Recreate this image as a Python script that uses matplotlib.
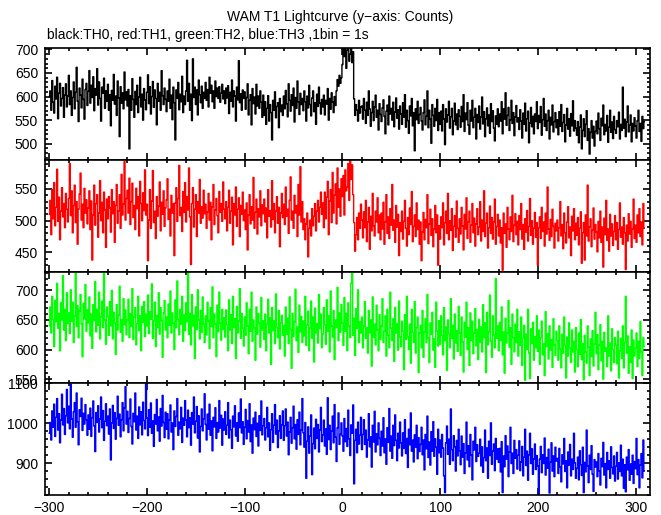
import numpy as np
import matplotlib
matplotlib.use("Agg")
import matplotlib.pyplot as plt
from matplotlib.ticker import MultipleLocator

plt.rcParams['font.family'] = ['Liberation Sans', 'DejaVu Sans']

t_start = -300

th0 = [
600, 612, 571, 634, 588, 565, 622, 595, 641, 553, 607, 628, 580, 596, 619, 556, 603, 627, 578, 601,
645, 583, 612, 560, 598, 631, 574, 609, 662, 590, 547, 618, 603, 576, 637, 594, 552, 615, 628, 581,
611, 655, 586, 624, 598, 642, 570, 617, 603, 659, 582, 631, 596, 548, 620, 607, 639, 575, 612, 590,
626, 571, 604, 538, 613, 592, 647, 584, 601, 560, 633, 597, 515, 621, 586, 608, 574, 652, 593, 610,
580, 615, 489, 602, 571, 638, 594, 556, 611, 583, 624, 566, 599, 641, 578, 605, 550, 617, 593, 572,
609, 646, 585, 621, 563, 600, 632, 577, 614, 596, 540, 628, 590, 609, 571, 655, 602, 583, 618, 594,
568, 612, 590, 637, 575, 603, 551, 620, 587, 508, 614, 596, 630, 572, 605, 589, 643, 566, 601, 583,
612, 677, 590, 628, 571, 605, 549, 680, 598, 620, 583, 614, 561, 635, 604, 587, 622, 575, 609, 596,
630, 592, 615, 578, 641, 607, 624, 589, 612, 575, 633, 600, 618, 596, 621, 588, 607, 626, 595, 612,
585, 618, 597, 623, 564, 609, 590, 635, 578, 612, 601, 548, 620, 593, 676, 587, 606, 571, 614, 596,
610, 573, 598, 627, 561, 592, 604, 540, 617, 585, 599, 563, 626, 580, 601, 575, 612, 588, 556, 603,
560, 589, 541, 575, 602, 548, 583, 566, 508, 592, 571, 610, 555, 579, 587, 534, 596, 568, 582, 560,
601, 574, 613, 585, 557, 627, 592, 569, 604, 581, 618, 546, 598, 575, 633, 589, 562, 607, 583, 596,
570, 612, 589, 548, 601, 576, 624, 583, 559, 597, 612, 568, 587, 541, 605, 579, 620, 586, 563, 594,
578, 603, 561, 592, 584, 617, 550, 596, 573, 608, 589, 566, 600, 581, 612, 636, 622, 645, 628, 640,
668, 702, 685, 715, 660, 698, 720, 675, 690, 708, 672, 695, 595, 560, 583, 571, 548, 592, 565, 578,
580, 552, 596, 571, 543, 588, 560, 612, 574, 537, 566, 590, 549, 578, 603, 556, 571, 529, 585, 562,
547, 576, 593, 558, 521, 569, 582, 540, 601, 563, 575, 550, 588, 536, 567, 597, 554, 572, 531, 580,
563, 541, 587, 556, 604, 535, 571, 549, 522, 580, 559, 596, 538, 566, 485, 574, 551, 590, 543, 562,
577, 548, 529, 566, 593, 540, 558, 612, 534, 571, 552, 501, 583, 560, 537, 575, 549, 594, 528, 566,
541, 569, 527, 583, 552, 498, 574, 546, 561, 590, 533, 557, 575, 519, 548, 586, 540, 563, 530, 572,
558, 535, 579, 547, 604, 526, 565, 551, 587, 539, 520, 571, 548, 592, 534, 556, 575, 510, 562, 545,
580, 531, 557, 599, 542, 568, 515, 553, 576, 538, 561, 522, 585, 547, 570, 533, 506, 559, 541, 574,
536, 563, 548, 589, 521, 574, 552, 608, 539, 560, 577, 528, 551, 592, 543, 566, 517, 557, 581, 546,
555, 530, 572, 548, 512, 565, 541, 586, 527, 553, 569, 502, 544, 577, 536, 558, 521, 563, 547, 589,
532, 560, 545, 579, 518, 551, 596, 537, 563, 528, 549, 571, 510, 556, 540, 582, 525, 547, 566, 534,
551, 519, 568, 537, 583, 526, 545, 562, 504, 540, 575, 531, 553, 516, 564, 538, 591, 527, 549, 533,
518, 547, 502, 535, 561, 489, 528, 553, 515, 541, 570, 507, 532, 478, 524, 549, 512, 537, 495, 526,
548, 521, 565, 532, 507, 554, 538, 582, 519, 541, 527, 560, 503, 535, 571, 524, 546, 511, 558, 530,
522, 549, 536, 567, 510, 541, 528, 620, 533, 552, 515, 546, 580, 525, 539, 561, 504, 543, 527, 555,
538, 512, 549, 571, 526, 543, 505, 558, 532, 547,
]

th1 = [
510, 532, 478, 549, 503, 560, 492, 521, 581, 499, 537, 470, 515, 552, 506, 527, 489, 543, 518, 498,
535, 590, 508, 547, 481, 524, 556, 497, 530, 463, 518, 542, 575, 501, 526, 489, 551, 512, 533, 495,
520, 547, 486, 531, 438, 509, 556, 493, 527, 541, 474, 512, 563, 500, 529, 481, 545, 517, 458, 534,
503, 538, 520, 482, 549, 511, 530, 466, 524, 557, 496, 515, 541, 488, 573, 509, 526, 593, 501, 535,
548, 512, 567, 494, 530, 559, 505, 524, 486, 551, 519, 538, 476, 562, 527, 500, 544, 516, 580, 509,
526, 437, 501, 549, 488, 531, 579, 497, 515, 472, 538, 507, 523, 561, 484, 529, 510, 547, 491, 520,
533, 566, 502, 518, 476, 540, 512, 527, 445, 528, 552, 499, 535, 587, 508, 521, 483, 546, 513, 560,
498, 538, 517, 583, 506, 431, 527, 552, 490, 518, 541, 475, 530, 512, 565, 496, 522, 504, 548, 511,
526, 488, 514, 543, 501, 529, 470, 522, 557, 494, 517, 535, 508, 481, 546, 513, 527, 499, 561, 518,
503, 530, 484, 521, 548, 496, 515, 537, 462, 527, 509, 553, 491, 518, 536, 475, 524, 510, 545, 500,
517, 486, 528, 454, 509, 541, 495, 522, 501, 568, 488, 513, 534, 479, 519, 506, 547, 492, 525, 511,
534, 498, 520, 473, 549, 507, 516, 490, 563, 502, 527, 481, 515, 538, 496, 521, 459, 512, 543, 505,
526, 494, 553, 507, 518, 480, 532, 569, 501, 515, 488, 540, 512, 524, 475, 557, 509, 585, 498, 530,
486, 503, 470, 495, 512, 443, 488, 501, 476, 519, 492, 507, 527, 484, 515, 532, 498, 521, 545, 510,
528, 489, 545, 503, 537, 562, 478, 531, 549, 497, 576, 512, 540, 558, 495, 583, 521, 550, 507, 566,
538, 571, 509, 580, 547, 553, 590, 532, 598, 565, 588, 541, 497, 452, 478, 505, 470, 512, 488, 526,
501, 473, 514, 489, 532, 467, 498, 521, 455, 507, 484, 543, 492, 476, 515, 498, 536, 481, 509, 470,
512, 487, 529, 463, 498, 541, 480, 506, 472, 519, 493, 557, 485, 501, 466, 524, 490, 510, 445, 497,
483, 515, 471, 499, 532, 488, 460, 505, 478, 520, 494, 546, 467, 491, 509, 475, 528, 486, 501, 463,
498, 437, 482, 513, 470, 502, 489, 541, 464, 495, 518, 477, 503, 459, 487, 524, 481, 509, 430, 492,
471, 506, 489, 528, 462, 497, 515, 480, 543, 470, 500, 485, 519, 453, 491, 508, 474, 531, 488, 466,
503, 479, 521, 492, 454, 510, 487, 536, 472, 498, 515, 466, 493, 527, 481, 504, 460, 495, 519, 478,
490, 530, 468, 501, 483, 547, 475, 496, 512, 457, 489, 523, 480, 505, 471, 498, 534, 463, 491, 510,
476, 501, 465, 489, 422, 512, 480, 495, 458, 521, 487, 470, 506, 483, 540, 467, 493, 511, 478, 499,
462, 508, 486, 527, 471, 494, 455, 503, 482, 516, 468, 491, 535, 477, 500, 463, 488, 513, 474, 497,
430, 489, 506, 472, 521, 483, 498, 460, 512, 479, 553, 487, 469, 502, 475, 518, 491, 457, 496, 484,
501, 468, 489, 530, 476, 494, 456, 512, 481, 465, 498, 522, 473, 490, 445, 507, 484, 519, 470, 496,
477, 505, 462, 488, 514, 433, 481, 497, 438, 509, 476, 556, 468, 490, 503, 459, 485, 520, 471, 494,
482, 451, 499, 473, 515, 466, 490, 427, 504, 478, 532, 469, 487, 452, 510, 476, 495, 461, 483, 508,
470, 497, 455, 486, 528, 474, 490, 463, 505, 481, 423, 493, 468, 511, 479, 499, 458, 487, 534, 472,
493, 466, 509, 481, 519, 475, 498, 462, 527, 488,
]

th2 = [
640, 672, 628, 690, 651, 605, 683, 647, 712, 636, 661, 598, 679, 650, 725, 633, 668, 615, 696, 644,
662, 627, 701, 648, 680, 612, 657, 730, 639, 674, 620, 665, 693, 643, 588, 678, 652, 710, 631, 667,
645, 689, 623, 660, 602, 676, 649, 715, 630, 668, 641, 697, 618, 655, 682, 637, 731, 650, 609, 672,
656, 624, 681, 640, 700, 618, 663, 645, 592, 676, 633, 658, 707, 629, 651, 614, 686, 642, 667, 625,
650, 685, 620, 661, 639, 703, 617, 655, 671, 608, 644, 690, 632, 657, 598, 673, 646, 681, 622, 660,
640, 692, 627, 664, 651, 711, 619, 648, 680, 605, 658, 637, 696, 626, 671, 649, 587, 662, 683, 633,
655, 620, 677, 641, 699, 628, 662, 645, 600, 684, 637, 716, 651, 625, 668, 643, 690, 614, 659, 632,
679, 647, 731, 626, 661, 608, 693, 640, 658, 585, 672, 634, 701, 650, 618, 666, 629, 689, 643, 612,
657, 625, 680, 648, 602, 671, 639, 706, 620, 660, 643, 588, 675, 630, 697, 645, 616, 668, 634, 654,
621, 667, 642, 598, 684, 633, 659, 610, 690, 637, 652, 585, 673, 628, 648, 703, 619, 661, 636, 606,
655, 624, 679, 640, 593, 668, 631, 697, 614, 650, 637, 582, 672, 626, 661, 645, 604, 688, 633, 649,
617, 660, 598, 643, 685, 628, 654, 575, 671, 632, 649, 610, 694, 637, 620, 666, 601, 645, 658, 624,
641, 589, 672, 626, 653, 610, 689, 634, 568, 661, 622, 647, 702, 615, 638, 595, 675, 630, 656, 612,
648, 623, 690, 607, 641, 665, 598, 637, 682, 619, 655, 579, 670, 628, 644, 611, 693, 636, 660, 603,
626, 671, 642, 609, 684, 631, 657, 596, 699, 640, 621, 666, 583, 650, 637, 705, 615, 662, 629, 676,
645, 607, 688, 631, 661, 598, 679, 640, 620, 712, 731, 624, 653, 590, 669, 636, 701, 612, 647, 628,
655, 603, 640, 681, 619, 637, 594, 666, 628, 650, 572, 689, 621, 643, 608, 675, 633, 598, 659, 617,
640, 686, 612, 631, 657, 589, 668, 624, 603, 697, 636, 615, 652, 580, 671, 628, 644, 599, 682, 621,
605, 648, 631, 566, 659, 617, 690, 622, 600, 643, 577, 668, 629, 612, 681, 594, 637, 655, 561, 628,
641, 603, 666, 587, 630, 652, 612, 693, 620, 578, 645, 626, 663, 599, 618, 570, 680, 631, 606, 649,
609, 657, 624, 591, 671, 615, 638, 565, 650, 627, 603, 686, 619, 641, 584, 660, 611, 632, 597, 673,
628, 590, 655, 613, 562, 646, 621, 680, 600, 637, 573, 662, 615, 648, 593, 628, 669, 606, 634, 583,
651, 612, 638, 596, 676, 620, 645, 561, 663, 608, 630, 692, 614, 587, 657, 625, 603, 720, 619, 640,
598, 646, 615, 672, 591, 630, 560, 653, 611, 628, 683, 604, 637, 575, 660, 620, 596, 643, 612, 668,
589, 630, 607, 655, 573, 619, 641, 548, 626, 600, 668, 594, 551, 635, 610, 646, 582, 622, 603, 657,
597, 633, 575, 620, 648, 591, 610, 556, 664, 605, 627, 584, 640, 599, 617, 570, 652, 608, 590, 631,
615, 582, 640, 601, 569, 626, 594, 655, 607, 552, 621, 589, 645, 603, 578, 633, 596, 614, 562, 637,
600, 571, 628, 592, 651, 583, 610, 549, 624, 596, 577, 640, 604, 556, 618, 588, 632, 572, 609, 663,
593, 625, 566, 608, 642, 581, 614, 550, 629, 597, 603, 571, 657, 589, 611, 564, 635, 600, 578, 620,
607, 576, 631, 552, 598, 619, 585, 640, 569, 612, 690, 594, 623, 560, 605, 578, 633, 551, 616, 589,
602, 628, 571, 614, 585, 647, 596, 556, 620, 605,
]

th3 = [
975, 1002, 958, 1031, 990, 1048, 967, 1015, 1062, 983, 1024, 951, 1008, 1073, 996, 1037, 972, 1019, 1085, 1001,
1043, 986, 1098, 1011, 965, 1029, 1052, 990, 1076, 1004, 946, 1034, 1017, 1063, 982, 1025, 998, 1047, 1009, 970,
1021, 985, 1038, 967, 1014, 1056, 993, 929, 1027, 1002, 1044, 978, 1011, 1066, 989, 1032, 957, 1005, 1049, 994,
1018, 973, 1036, 908, 1001, 1045, 987, 1027, 960, 1012, 1068, 995, 1023, 966, 1009, 1052, 981, 1039, 1092, 998,
1030, 977, 1012, 1061, 992, 948, 1025, 1004, 1076, 983, 1018, 962, 1041, 996, 1029, 971, 1053, 1007, 986, 1099,
1013, 969, 1034, 990, 1051, 975, 1006, 942, 1022, 998, 1060, 981, 1016, 955, 1037, 993, 1070, 1002, 964, 1028,
985, 1024, 961, 1009, 1046, 978, 1001, 934, 1031, 992, 1017, 1062, 970, 1003, 986, 1040, 952, 1013, 995, 1057,
1008, 966, 1033, 989, 1014, 945, 1027, 998, 1066, 976, 1005, 1042, 963, 1019, 928, 992, 1036, 981, 1011, 1074,
997, 958, 1023, 985, 1048, 970, 1006, 931, 1015, 991, 1039, 962, 1002, 978, 1057, 988, 1020, 945, 1011, 983,
1029, 972, 995, 1052, 963, 1008, 984, 937, 1018, 991, 1044, 968, 1001, 955, 1026, 989, 1061, 976, 1004, 947,
990, 1035, 961, 1007, 978, 1049, 954, 996, 925, 1013, 984, 1028, 967, 1000, 943, 1019, 982, 1056, 971, 994,
1012, 958, 989, 1040, 966, 1001, 932, 984, 1024, 952, 995, 1047, 973, 1008, 939, 981, 1019, 962, 996, 1031,
957, 994, 1036, 968, 1003, 921, 978, 1015, 950, 989, 1043, 961, 997, 935, 1009, 972, 1028, 946, 983, 1062,
976, 940, 1002, 862, 955, 991, 925, 968, 1021, 871, 949, 988, 936, 1010, 962, 997, 928, 983, 1040, 954,
971, 1008, 943, 986, 922, 1064, 959, 995, 934, 980, 1018, 951, 1047, 965, 904, 989, 1026, 947, 972, 1001,
968, 930, 1012, 954, 987, 942, 1033, 961, 919, 996, 975, 1046, 848, 957, 985, 926, 1003, 948, 970, 1015,
934, 972, 1009, 947, 983, 915, 958, 1024, 941, 966, 890, 995, 953, 1030, 928, 974, 946, 1001, 962, 919,
980, 943, 1014, 926, 961, 897, 989, 952, 1037, 930, 968, 912, 995, 944, 1021, 957, 906, 975, 938, 1003,
951, 918, 976, 937, 1009, 924, 962, 889, 985, 946, 1026, 930, 958, 903, 971, 940, 995, 911, 964, 929,
947, 990, 921, 958, 883, 972, 936, 1018, 914, 953, 895, 979, 930, 1004, 917, 961, 940, 872, 985, 926,
958, 915, 972, 938, 868, 826, 951, 993, 922, 960, 897, 1036, 934, 906, 969, 941, 880, 957, 918, 985,
931, 896, 968, 915, 949, 874, 926, 1003, 908, 944, 891, 972, 920, 858, 955, 933, 990, 904, 946, 917,
925, 960, 893, 941, 877, 914, 983, 906, 938, 862, 955, 919, 1001, 897, 930, 948, 881, 962, 910, 936,
902, 937, 878, 954, 826, 918, 891, 969, 910, 943, 866, 928, 990, 899, 925, 874, 957, 912, 934, 885,
920, 956, 881, 903, 942, 868, 915, 985, 894, 930, 857, 921, 975, 899, 936, 872, 910, 948, 884, 919,
893, 822, 910, 942, 876, 921, 899, 963, 870, 914, 887, 935, 825, 902, 951, 880, 918, 866, 940, 905,
912, 874, 937, 890, 853, 921, 898, 962, 879, 906, 838, 928, 895, 947, 868, 910, 884, 975, 901, 862,
887, 915, 858, 931, 896, 869, 940, 826, 902, 878, 983, 893, 851, 920, 884, 944, 872, 829, 909, 890,
903, 866, 924, 880, 845, 912, 891, 952, 870, 899, 838, 927, 884, 906, 862, 941, 889, 873, 918, 855,
892, 927, 860, 901, 879, 945, 868, 910, 837, 896, 828, 915, 883, 934, 857, 898, 872, 920, 849, 904,
886, 962, 871, 909, 838, 895, 924, 863, 958, 880,
]

series = [th0, th1, th2, th3]
colors = ['black', '#ff0000', '#00ff00', '#0000ff']
ylims = [(466, 703), (420, 596), (543, 732), (820, 1100.5)]
ymajor = [50, 50, 50, 100]
yminor = [10, 10, 10, 20]

W, H = 661, 515
fig = plt.figure(figsize=(W / 100, H / 100), dpi=100)

left, right = 45 / W, 650 / W
top_px, bot_px = 48, 495
panel_h = (bot_px - top_px) / 4

for i, (y, c) in enumerate(zip(series, colors)):
    y0 = top_px + panel_h * (i + 1)
    ax = fig.add_axes([left, 1 - y0 / H, right - left, panel_h / H])
    x = np.arange(t_start, t_start + len(y))
    ax.plot(x, y, color=c, lw=1.0, drawstyle='steps-mid')
    ax.set_xlim(-304.4, 314.8)
    ax.set_ylim(*ylims[i])
    ax.xaxis.set_major_locator(MultipleLocator(100))
    ax.xaxis.set_minor_locator(MultipleLocator(20))
    ax.yaxis.set_major_locator(MultipleLocator(ymajor[i]))
    ax.yaxis.set_minor_locator(MultipleLocator(yminor[i]))
    ax.tick_params(which='both', direction='in', top=True, right=True,
                   width=1.2, labelsize=10, colors='black')
    ax.tick_params(which='major', length=5, pad=5)
    ax.tick_params(which='minor', length=2.5)
    for s in ax.spines.values():
        s.set_linewidth(1.2)
    if i < 3:
        ax.tick_params(labelbottom=False)
    else:
        ax.tick_params(axis='x', pad=4)

fig.text(340 / W, 1 - 17 / H, 'WAM T1 Lightcurve (y\u2212axis: Counts)',
         ha='center', va='center', fontsize=10)
fig.text(47 / W, 1 - 35 / H, 'black:TH0, red:TH1, green:TH2, blue:TH3 ,1bin = 1s',
         ha='left', va='center', fontsize=10)

fig.savefig('out.png', dpi=100)
